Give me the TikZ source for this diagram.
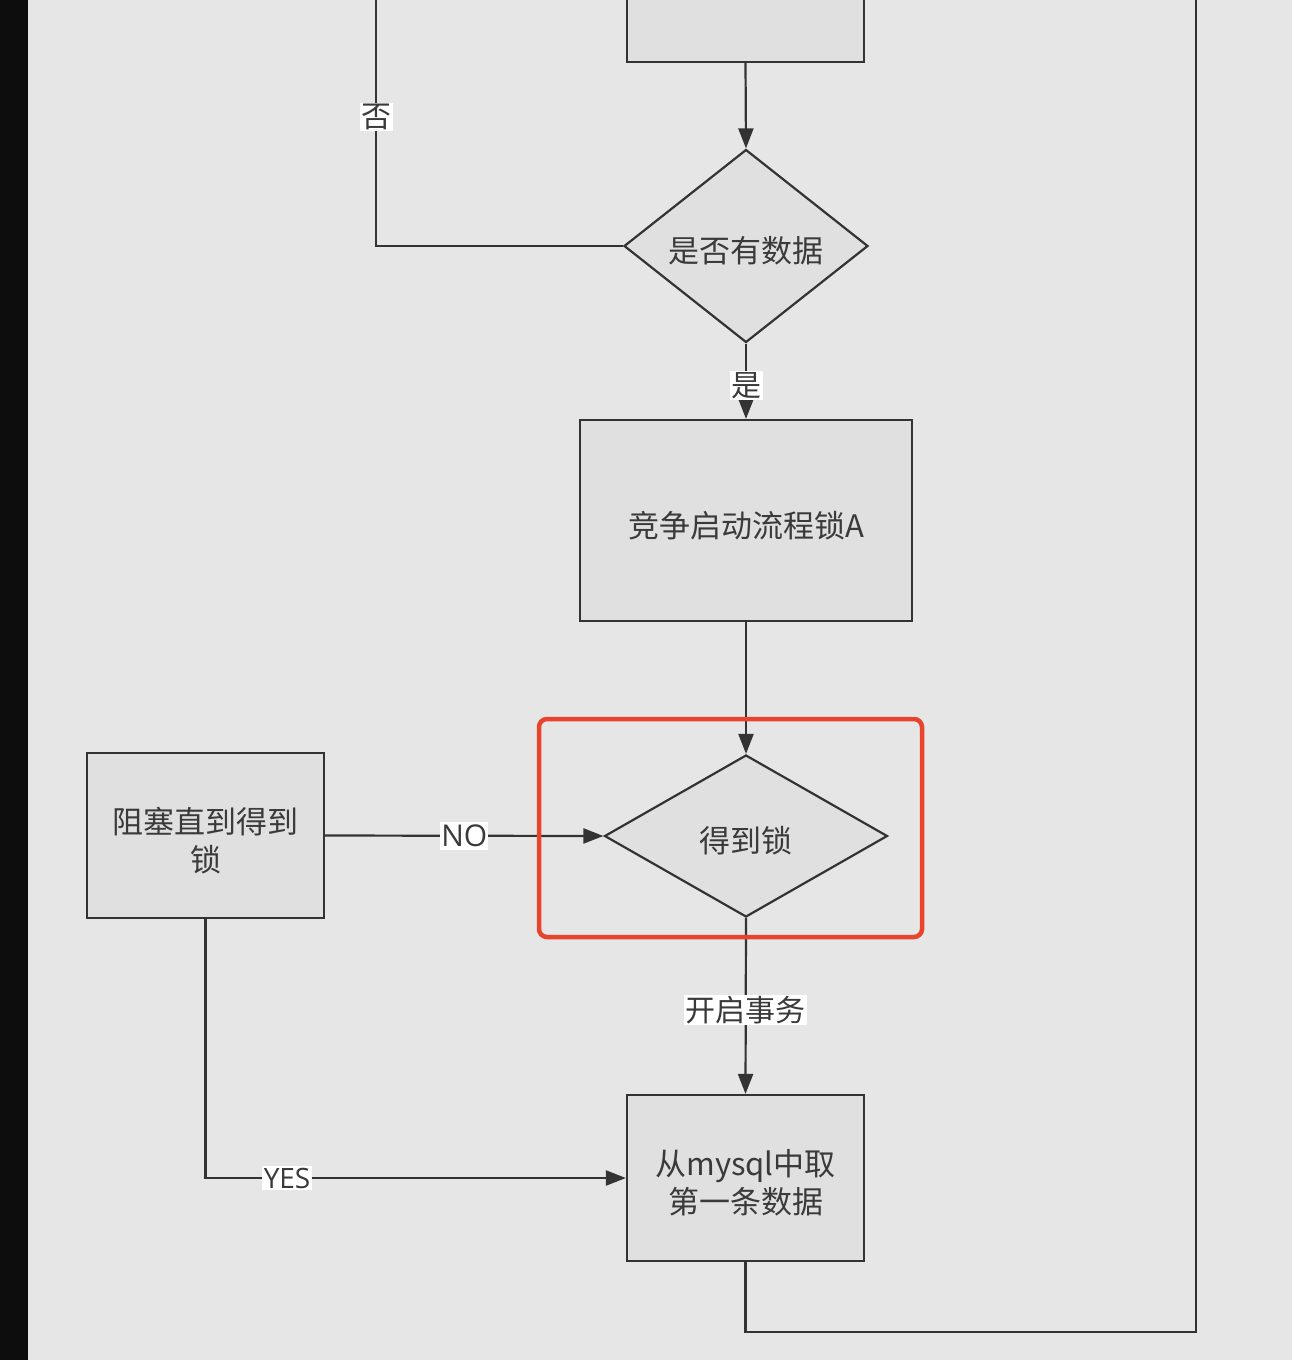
\documentclass[tikz,border=0pt]{standalone}
\usepackage{fontspec}
\newfontfamily\cjk{Noto Sans CJK SC}
\usetikzlibrary{positioning}
\usetikzlibrary{shapes.geometric}
\usetikzlibrary{arrows.meta}

\definecolor{bggray}{HTML}{E6E6E6}
\definecolor{boxgray}{HTML}{E0E0E0}
\definecolor{linegray}{HTML}{333333}
\definecolor{txtgray}{HTML}{3A3A3A}
\definecolor{markred}{HTML}{E8432D}

% text sits a little below the middle of its shape
\newcommand{\droptext}[1]{\raisebox{-9pt}[\height][\depth]{\begin{tabular}{@{}c@{}}#1\end{tabular}}}

\tikzset{
    flowline/.style={draw=linegray, line width=2.2pt},
    flowarrow/.style={flowline, -{Triangle[length=20pt,width=15pt]}},
    procbox/.style={rectangle, draw=linegray, fill=boxgray, line width=2.2pt,
        align=center, text=txtgray, font=\cjk\fontsize{31}{38}\selectfont},
    decision/.style={diamond, draw=linegray, fill=boxgray, line width=2.2pt,
        align=center, text=txtgray, inner sep=0pt, font=\cjk\fontsize{31}{38}\selectfont},
    edgelabel/.style={fill=white, text=txtgray, inner sep=1.5pt,
        font=\cjk\fontsize{30}{34}\selectfont}
}

\begin{document}
\begin{tikzpicture}[x=1pt, y=-1pt]
    \useasboundingbox (0,0) rectangle (1292,1360);
    \clip (0,0) rectangle (1292,1360);
    \fill[bggray] (0,0) rectangle (1292,1360);
    \fill[black!95] (0,0) rectangle (28,1360);

    % nodes
    \node[procbox, minimum width=237pt, minimum height=102pt] (fetch) at (745.5,11) {};
    \node[decision, minimum width=244pt, minimum height=190pt] (hasdata) at (746,246) {\droptext{是否有数据}};
    \node[procbox, minimum width=332pt, minimum height=201pt] (lockA) at (746,520.5) {\droptext{竞争启动流程锁A}};
    \node[decision, minimum width=283pt, minimum height=162pt] (getlock) at (746,836) {\droptext{得到锁}};
    \node[procbox, minimum width=237pt, minimum height=165pt] (block) at (205.5,835.5) {\droptext{阻塞直到得到\\锁}};
    \node[procbox, minimum width=237pt, minimum height=166pt] (takerow) at (745.5,1178) {\droptext{从mysql中取\\第一条数据}};

    % free ends at the top edge
    \coordinate (notop) at (376,-5);
    \coordinate (looptop) at (1196,-5);

    % connectors
    \draw[flowarrow] (fetch.south) -- (hasdata.north);
    \draw[flowline] (hasdata.west) -| (notop)
        node[edgelabel, pos=0.757] {否};
    \draw[flowarrow] (hasdata.south) -- (lockA.north)
        node[edgelabel, midway, yshift=-4pt] {是};
    \draw[flowarrow] (lockA.south) -- (getlock.north);
    \draw[flowarrow] (block.east) -- (getlock.west)
        node[edgelabel, midway, fill=bggray, inner sep=0pt, font=\fontspec{Open Sans}\fontsize{30}{34}\selectfont] {\colorbox{white}{\kern-2pt NO\kern-2pt}};
    \draw[flowarrow] (getlock.south) -- (takerow.north)
        node[edgelabel, midway, yshift=-4pt] {开启事务};
    \draw[flowarrow] (block.south) |- (takerow.west)
        node[edgelabel, pos=0.597, font=\fontspec{Open Sans}\fontsize{28}{34}\selectfont] {YES};
    \draw[flowline] (takerow.south) |- (1196,1332) -- (looptop);

    % highlight
    \draw[markred, line width=4.5pt, rounded corners=8pt] (539,719) rectangle (922,937);
\end{tikzpicture}
\end{document}
